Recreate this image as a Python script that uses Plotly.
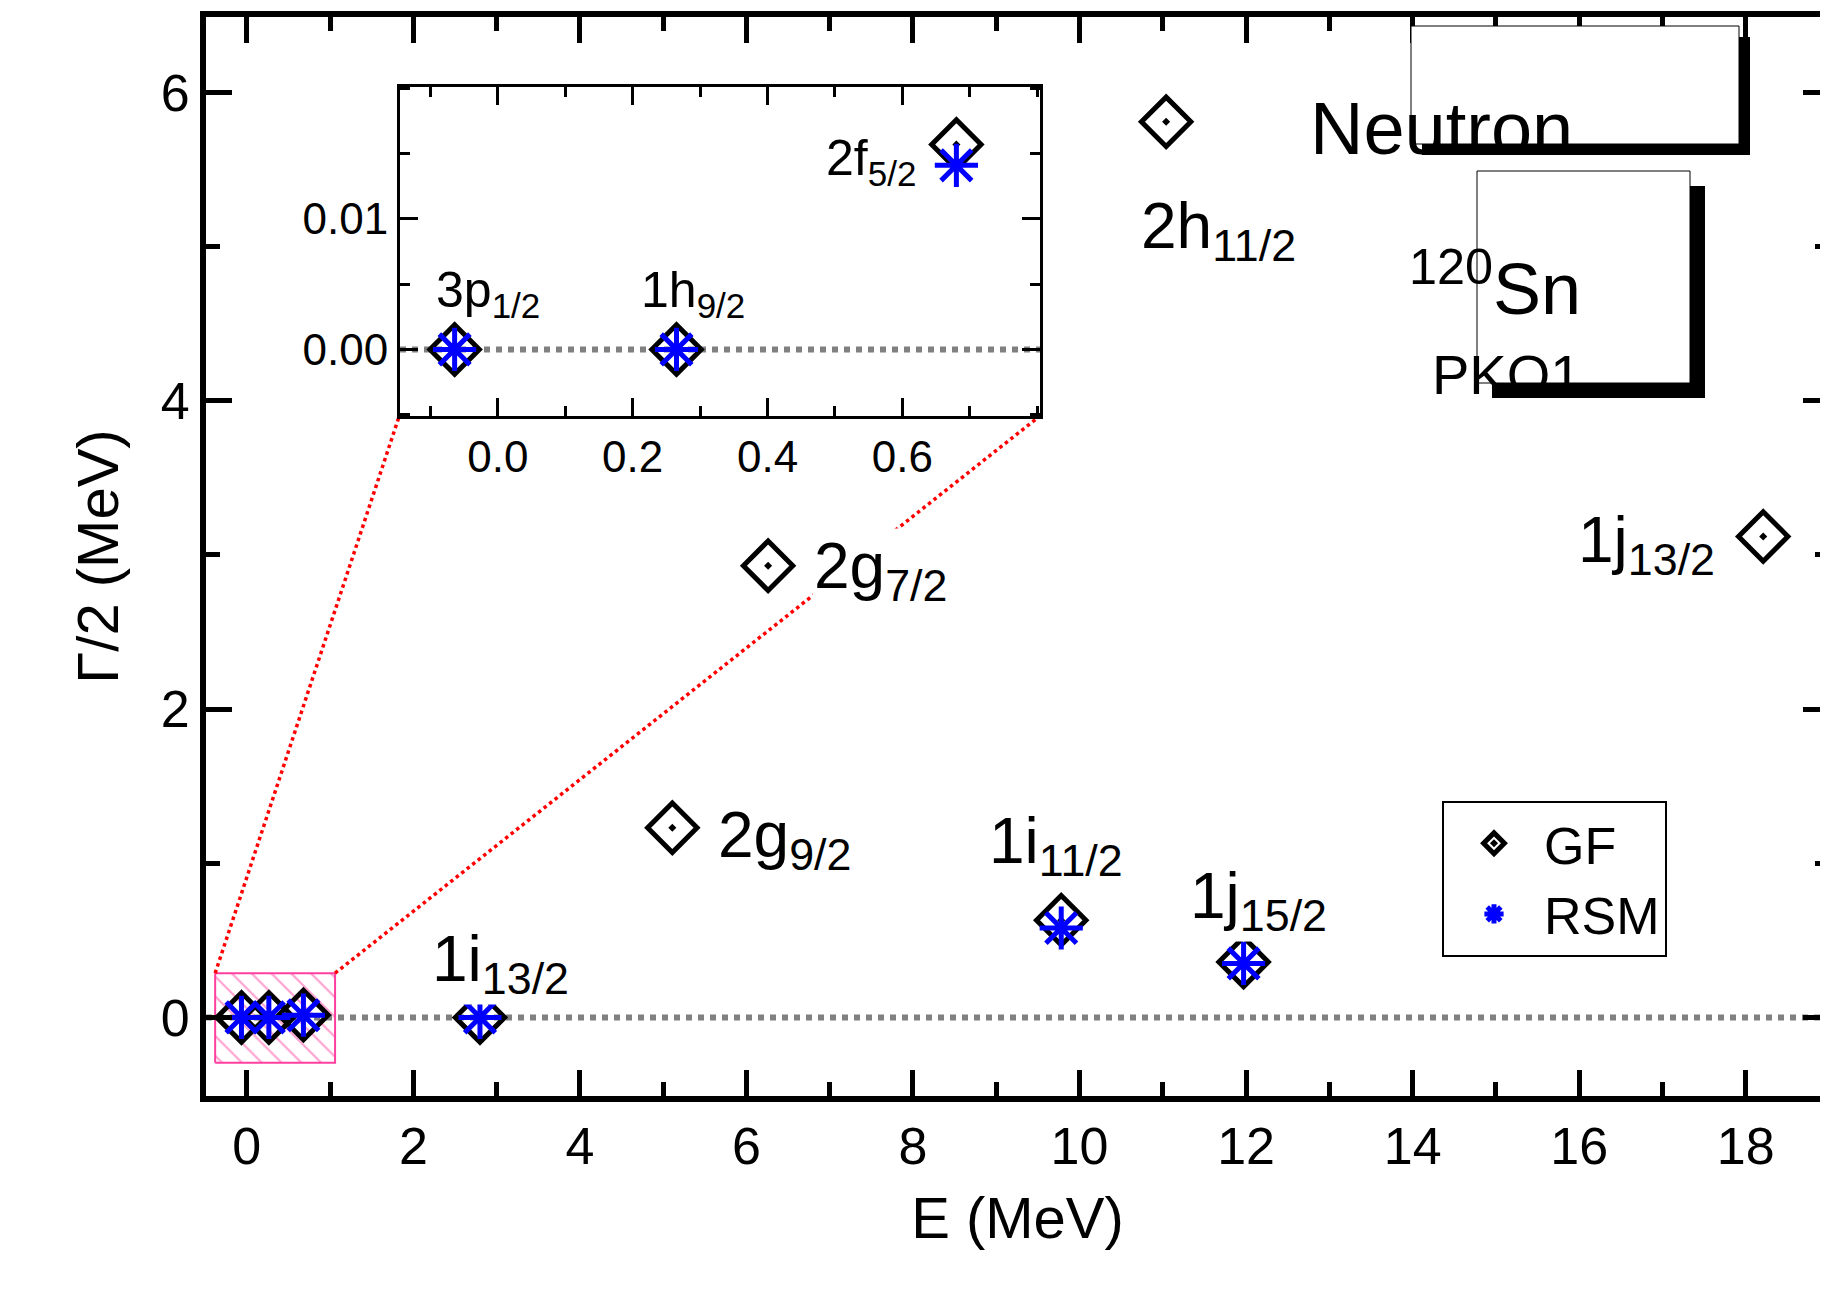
import plotly.graph_objects as go

# ---- data ----
gf_E = [-0.064, 0.265, 0.68, 2.80, 5.11, 6.26, 9.78, 11.04, 11.97, 18.21]
gf_G = [0.0, 0.0, 0.0157, 0.0, 1.23, 2.93, 0.63, 5.81, 0.36, 3.12]
rsm_E = [-0.064, 0.265, 0.68, 2.80, 9.78, 11.97]
rsm_G = [0.0, 0.0, 0.0141, 0.0, 0.58, 0.35]
labels_main = ["1i<sub>13/2</sub>", "2g<sub>9/2</sub>", "2g<sub>7/2</sub>", "1i<sub>11/2</sub>",
               "2h<sub>11/2</sub>", "1j<sub>15/2</sub>", "1j<sub>13/2</sub>"]
lab_x = [2.20, 5.63, 6.79, 8.89, 10.71, 11.30, 17.65]
lab_y = [0.35, 1.16, 2.90, 1.12, 5.11, 0.76, 3.07]
lab_anchor = ["left", "left", "left", "left", "left", "left", "right"]
labels_inset = ["3p<sub>1/2</sub>", "1h<sub>9/2</sub>", "2f<sub>5/2</sub>"]
ins_x = [-0.095, 0.209, 0.623]
ins_y = [0.0043, 0.0043, 0.0144]
ins_anchor = ["left", "left", "right"]
inset_xticks = [0.0, 0.2, 0.4, 0.6]
inset_yticks = [0.0, 0.01]

W, H = 1828, 1291
ml, mr, mt, mb = 198, 7, 9, 203
pw, ph = W - ml - mr, H - mt - mb
def px(X): return (X - ml) / pw
def py(Y): return (H - mb - Y) / ph

FONT = "Liberation Sans"
fig = go.Figure()

# hatched zoom box
fig.add_trace(go.Scatter(x=[-0.38, 1.06, 1.06, -0.38, -0.38], y=[-0.295, -0.295, 0.287, 0.287, -0.295],
                         mode="lines", fill="toself", line=dict(color="#ff3fa0", width=2),
                         fillpattern=dict(shape="\\", fgcolor="#ff3fa0", bgcolor="white", size=14, solidity=0.15),
                         showlegend=False, hoverinfo="skip"))
# red dotted connectors
fig.add_trace(go.Scatter(x=[-0.38, 1.83], y=[0.287, 3.90], mode="lines",
                         line=dict(color="red", width=3.5, dash="dot"), showlegend=False))
fig.add_trace(go.Scatter(x=[1.06, 9.52], y=[0.287, 3.90], mode="lines",
                         line=dict(color="red", width=3.5, dash="dot"), showlegend=False))
# zero lines
for xa, ya, xr in [("x", "y", [-0.49, 19.0]), ("x2", "y2", [-0.145, 0.804])]:
    fig.add_trace(go.Scatter(x=xr, y=[0, 0], mode="lines", xaxis=xa, yaxis=ya,
                             line=dict(color="gray", width=6, dash="dot"), showlegend=False))

gf_marker = dict(symbol="diamond-open-dot", size=38, color="black", line=dict(color="black", width=5))
rsm_marker = dict(symbol="asterisk-open", size=36, color="blue", line=dict(color="blue", width=5))
fig.add_trace(go.Scatter(x=gf_E, y=gf_G, mode="markers", marker=gf_marker, name="GF"))
fig.add_trace(go.Scatter(x=rsm_E, y=rsm_G, mode="markers", marker=rsm_marker, name="RSM"))
fig.add_trace(go.Scatter(x=gf_E[:3], y=gf_G[:3], mode="markers", marker=gf_marker, xaxis="x2", yaxis="y2", showlegend=False))
fig.add_trace(go.Scatter(x=rsm_E[:3], y=rsm_G[:3], mode="markers", marker=rsm_marker, xaxis="x2", yaxis="y2", showlegend=False))

ax_common = dict(showline=True, linecolor="black", mirror="ticks", ticks="inside",
                 tickcolor="black", showgrid=False, zeroline=False,
                 tickfont=dict(family=FONT, size=52, color="black"))
inset_font = dict(family=FONT, size=44, color="black")
fig.update_layout(
    width=W, height=H, paper_bgcolor="white", plot_bgcolor="white",
    margin=dict(l=ml, r=mr, t=mt, b=mb, autoexpand=False),
    xaxis=dict(range=[-0.49, 19.0], dtick=2, tickwidth=5, ticklen=26, linewidth=6,
               minor=dict(dtick=1, ticks="inside", ticklen=14, tickwidth=5, tickcolor="black"),
               title=dict(text="E (MeV)", font=dict(family=FONT, size=58, color="black"), standoff=25),
               **ax_common),
    yaxis=dict(range=[-0.51, 6.49], dtick=2, tickwidth=5, ticklen=26, linewidth=6,
               minor=dict(dtick=1, ticks="inside", ticklen=14, tickwidth=5, tickcolor="black"),
               title=dict(text="Γ/2 (MeV)", font=dict(family=FONT, size=58, color="black"), standoff=25),
               **ax_common),
    xaxis2=dict(domain=[px(392), px(1032)], anchor="y2", range=[-0.145, 0.804], tickvals=inset_xticks,
                tickformat=".1f", tickwidth=3, ticklen=18, linewidth=3,
                minor=dict(dtick=0.1, ticks="inside", ticklen=10, tickwidth=3, tickcolor="black"),
                **{**ax_common, "tickfont": inset_font}),
    yaxis2=dict(domain=[py(408), py(79)], anchor="x2", range=[-0.0051, 0.0201], tickvals=inset_yticks,
                tickformat=".2f", tickwidth=3, ticklen=18, linewidth=3,
                minor=dict(dtick=0.005, ticks="inside", ticklen=10, tickwidth=3, tickcolor="black"),
                **{**ax_common, "tickfont": inset_font}),
    legend=dict(x=px(1434), y=py(793), xanchor="left", yanchor="top", bordercolor="black",
                borderwidth=2, bgcolor="white", font=dict(family=FONT, size=52, color="black"),
                itemwidth=90, tracegroupgap=20),
)

shapes = [dict(type="rect", xref="paper", yref="paper", x0=px(392), x1=px(1032), y0=py(408), y1=py(79),
               fillcolor="white", line=dict(width=0), layer="below")]
def box(x0, y0, x1, y1, off):
    shapes.append(dict(type="rect", xref="paper", yref="paper", x0=px(x0+off), x1=px(x1+off),
                       y0=py(y1+off), y1=py(y0+off), fillcolor="black", line=dict(width=0)))
    shapes.append(dict(type="rect", xref="paper", yref="paper", x0=px(x0), x1=px(x1),
                       y0=py(y1), y1=py(y0), fillcolor="white", line=dict(color="black", width=1)))
box(1403, 18, 1731, 136, 11)
box(1469, 163, 1682, 375, 15)
fig.update_layout(shapes=shapes)

ann = []
for t, x, y, a in zip(labels_main, lab_x, lab_y, lab_anchor):
    ann.append(dict(text=t, x=x, y=y, xref="x", yref="y", xanchor=a, yanchor="middle", showarrow=False,
                    bgcolor="white", font=dict(family=FONT, size=64, color="black")))
for t, x, y, a in zip(labels_inset, ins_x, ins_y, ins_anchor):
    ann.append(dict(text=t, x=x, y=y, xref="x2", yref="y2", xanchor=a, yanchor="middle", showarrow=False,
                    font=dict(family=FONT, size=50, color="black")))
ann.append(dict(text="Neutron", x=px(1567), y=py(77), xref="paper", yref="paper", showarrow=False,
                font=dict(family=FONT, size=74, color="black")))
ann.append(dict(text="<sup>120</sup>Sn", x=px(1575), y=py(228), xref="paper", yref="paper", showarrow=False,
                font=dict(family=FONT, size=72, color="black")))
ann.append(dict(text="PKO1", x=px(1575), y=py(333), xref="paper", yref="paper", showarrow=False,
                font=dict(family=FONT, size=56, color="black")))
fig.update_layout(annotations=ann)

fig.write_html("out.html")
